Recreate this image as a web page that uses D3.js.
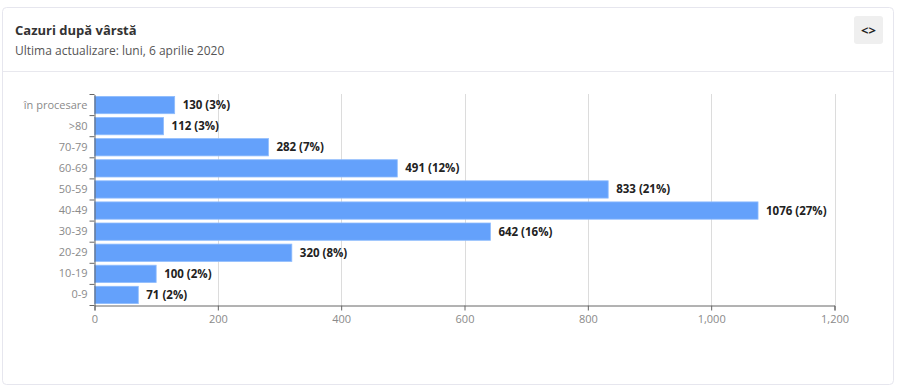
<!DOCTYPE html>
<html>
<head>
<meta charset="utf-8">
<script src="https://cdn.jsdelivr.net/npm/d3@7"></script>
<style>
  body { margin: 0; background: #fff; font-family: "Open Sans", "Noto Sans", sans-serif; }
</style>
</head>
<body>
<script>
const categories = ["în procesare", ">80", "70-79", "60-69", "50-59", "40-49", "30-39", "20-29", "10-19", "0-9"];
const cases = [130, 112, 282, 491, 833, 1076, 642, 320, 100, 71];
const percents = [3, 3, 7, 12, 21, 27, 16, 8, 2, 2];
const xTicks = [0, 200, 400, 600, 800, 1000, 1200];

const main = () => {
  const svg = d3.select("body")
    .append("svg")
    .attr("width", 900)
    .attr("height", 390);

  // card
  svg.append("rect")
    .attr("x", 2.5).attr("y", 7.5)
    .attr("width", 891).attr("height", 377)
    .attr("rx", 4)
    .attr("fill", "#fff")
    .attr("stroke", "#e6e6ee");

  svg.append("line")
    .attr("x1", 3).attr("x2", 893)
    .attr("y1", 71.5).attr("y2", 71.5)
    .attr("stroke", "#e8e8ee");

  svg.append("text")
    .attr("x", 15).attr("y", 35)
    .attr("font-size", 13).attr("font-weight", "bold")
    .attr("fill", "#333")
    .text("Cazuri după vârstă");

  svg.append("text")
    .attr("x", 15).attr("y", 55)
    .attr("font-size", 12)
    .attr("fill", "#555")
    .text("Ultima actualizare: luni, 6 aprilie 2020");

  // embed button
  svg.append("rect")
    .attr("x", 854).attr("y", 16)
    .attr("width", 29).attr("height", 28)
    .attr("rx", 3)
    .attr("fill", "#efefef");
  svg.append("text")
    .attr("x", 868.5).attr("y", 34.5)
    .attr("text-anchor", "middle")
    .attr("font-size", 13).attr("font-weight", "bold")
    .attr("fill", "#222")
    .text("<>");

  const x = d3.scaleLinear()
    .domain([0, 1200])
    .range([94.5, 834.5]);

  const y = d3.scaleBand()
    .domain(categories)
    .range([94.5, 305.5])
    .paddingInner(0.18)
    .paddingOuter(0.09);

  // grid
  svg.append("g")
    .selectAll("line")
    .data(xTicks.slice(1))
    .enter()
    .append("line")
    .attr("x1", d => Math.round(x(d)) + 0.5)
    .attr("x2", d => Math.round(x(d)) + 0.5)
    .attr("y1", 94)
    .attr("y2", 305)
    .attr("stroke", "#dcdcdc");

  const rows = categories.map((c, i) => ({ cat: c, val: cases[i], pct: percents[i] }));

  const bar = svg.selectAll("g.bar")
    .data(rows)
    .enter()
    .append("g")
    .attr("class", "bar");

  bar.append("rect")
    .attr("x", x(0))
    .attr("y", d => y(d.cat))
    .attr("width", d => x(d.val) - x(0))
    .attr("height", y.bandwidth())
    .attr("fill", "#64a1fb")
    .attr("stroke", "#8fbcfd")
    .attr("stroke-width", 0.8);

  bar.append("text")
    .attr("x", d => x(d.val) + 8)
    .attr("y", d => y(d.cat) + y.bandwidth() / 2)
    .attr("dy", "0.35em")
    .attr("font-size", 11.5)
    .attr("font-weight", "bold")
    .attr("fill", "#222")
    .text(d => d.val + " (" + d.pct + "%)");

  // axes
  const xAxis = svg.append("g")
    .attr("transform", "translate(0,305.5)")
    .call(d3.axisBottom(x).tickValues(xTicks).tickSize(5).tickFormat(d3.format(",")));
  xAxis.select(".domain").attr("stroke", "#666");
  xAxis.selectAll(".tick line").attr("stroke", "#666");
  xAxis.selectAll("text")
    .attr("fill", "#8a8a8a")
    .attr("font-size", 11)
    .attr("font-family", "'Open Sans', sans-serif")
    .attr("dy", "0.9em");

  const yAxis = svg.append("g")
    .attr("transform", "translate(94.5,0)")
    .call(d3.axisLeft(y).tickSize(5).tickSizeOuter(0));
  yAxis.select(".domain").attr("stroke", "#666");
  yAxis.selectAll(".tick line").remove();
  yAxis.selectAll("text")
    .attr("fill", "#8a8a8a")
    .attr("font-size", 11)
    .attr("font-family", "'Open Sans', sans-serif")
    .attr("x", -7);

  // tick marks on the boundaries between categories
  const [y0, y1] = y.range();
  const bounds = d3.range(categories.length + 1).map(i => y0 + i * (y1 - y0) / categories.length);
  yAxis.selectAll("line.bt")
    .data(bounds)
    .enter()
    .append("line")
    .attr("class", "bt")
    .attr("x1", -5).attr("x2", 0)
    .attr("y1", d => d)
    .attr("y2", d => d)
    .attr("stroke", "#666");
};

window.onload = main;
</script>
</body>
</html>
